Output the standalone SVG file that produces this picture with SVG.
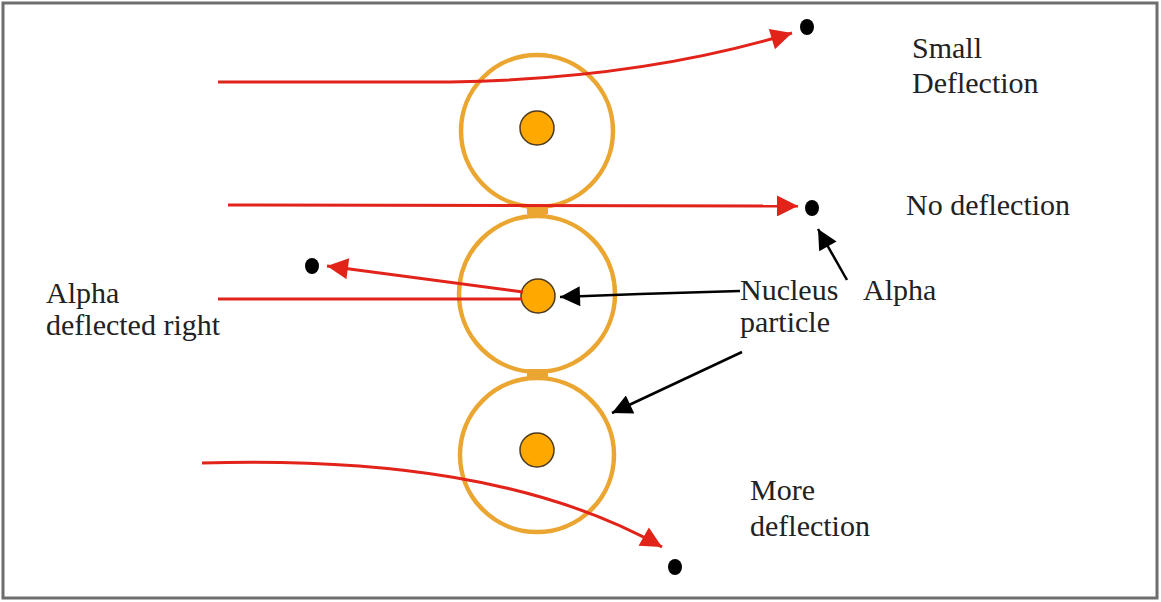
<svg xmlns="http://www.w3.org/2000/svg" width="1161" height="602" viewBox="0 0 1161 602">
<style>
.shell{fill:none;stroke:#EBA632;stroke-width:4.5}
.nuc{fill:#FFA800;stroke:#4a3a20;stroke-width:1.5}
.red{fill:none;stroke:#E2231A;stroke-width:3}
.blk{fill:none;stroke:#000;stroke-width:2.5}
.dot{fill:#000}
text{font-family:"Liberation Serif","Times New Roman",serif;font-size:30px;fill:#222}
</style>
<defs>
<marker id="ra" viewBox="0 0 10 10" refX="10" refY="5" markerWidth="9" markerHeight="7" markerUnits="strokeWidth" orient="auto">
<path d="M0,0 L10,5 L0,10 z" fill="#E2231A"/>
</marker>
<marker id="ba" viewBox="0 0 10 10" refX="10" refY="5" markerWidth="11" markerHeight="8" markerUnits="strokeWidth" orient="auto">
<path d="M0,0 L10,5 L0,10 z" fill="#000"/>
</marker>
</defs>
<rect x="3" y="3" width="1154" height="595" fill="#fff" stroke="#6e6e6e" stroke-width="3"/>
<g id="atom-top">
<circle class="shell" cx="537" cy="131" r="76"/>
<circle class="nuc" cx="537" cy="128" r="17"/>
</g>
<g id="atom-middle">
<circle class="shell" cx="537" cy="294" r="78"/>
<circle class="nuc" cx="538" cy="296" r="17"/>
</g>
<g id="atom-bottom">
<circle class="shell" cx="537" cy="455" r="77"/>
<circle class="nuc" cx="537" cy="450" r="17"/>
</g>
<g id="bridges" fill="#EBA632">
<rect x="527" y="205" width="21" height="9"/>
<rect x="527" y="369" width="21" height="10"/>
</g>
<g id="connectors">
<path class="red" d="M218,82 L450,82 Q640,79 792,33" marker-end="url(#ra)"/>
<path class="red" d="M228,205 L798,206" marker-end="url(#ra)"/>
<path class="red" d="M218,299 L522,299"/>
<path class="red" d="M523,292 L327,266" marker-end="url(#ra)"/>
<path class="red" d="M202,463 C380,458 540,478 662,547" marker-end="url(#ra)"/>
<path class="blk" d="M740,291 L640,294 L560,297" marker-end="url(#ba)"/>
<path class="blk" d="M847,280 L818,229" marker-end="url(#ba)"/>
<path class="blk" d="M742,352 L612,413" marker-end="url(#ba)"/>
</g>
<g id="particles">
<ellipse class="dot" cx="807" cy="27" rx="7" ry="8"/>
<ellipse class="dot" cx="812" cy="208" rx="7" ry="8"/>
<ellipse class="dot" cx="312" cy="266" rx="7" ry="8"/>
<ellipse class="dot" cx="675" cy="567" rx="7" ry="8"/>
</g>
<g id="labels">
<text x="912" y="58">Small</text>
<text x="912" y="93">Deflection</text>
<text x="906" y="215">No deflection</text>
<text x="46" y="303">Alpha</text>
<text x="46" y="335">deflected right</text>
<text x="740" y="300">Nucleus</text>
<text x="740" y="332">particle</text>
<text x="863" y="300">Alpha</text>
<text x="750" y="500">More</text>
<text x="750" y="536">deflection</text>
</g>
</svg>
